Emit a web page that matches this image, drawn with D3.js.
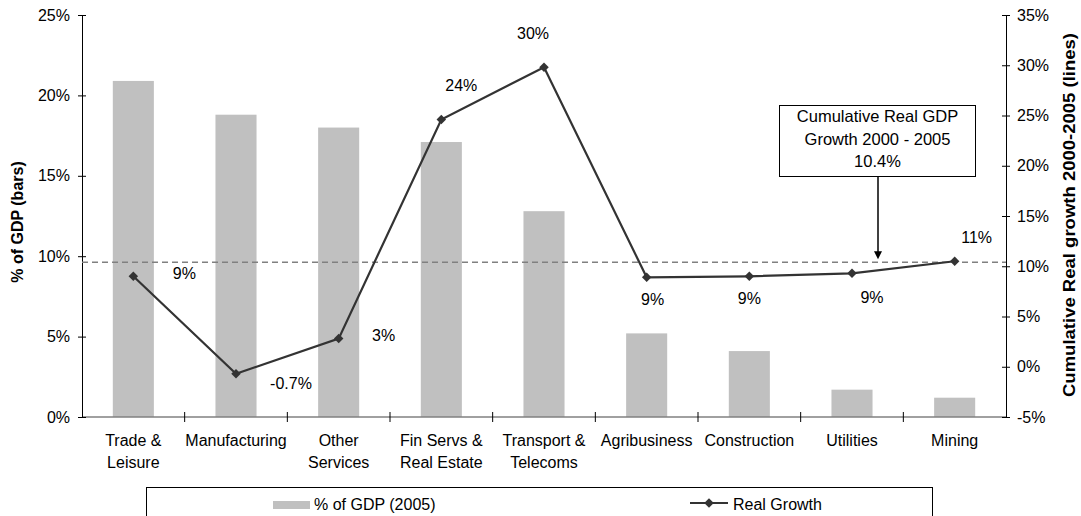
<!DOCTYPE html>
<html>
<head>
<meta charset="utf-8">
<script src="https://cdn.jsdelivr.net/npm/d3@7"></script>
<style>
  body { margin: 0; background: #fff; }
  svg { font-family: "Liberation Sans", Arial, sans-serif; }
</style>
</head>
<body>
<script>
// data
var categories = ["Trade & Leisure", "Manufacturing", "Other Services", "Fin Servs & Real Estate",
  "Transport & Telecoms", "Agribusiness", "Construction", "Utilities", "Mining"];
var catLines = [["Trade &", "Leisure"], ["Manufacturing"], ["Other", "Services"], ["Fin Servs &", "Real Estate"],
  ["Transport &", "Telecoms"], ["Agribusiness"], ["Construction"], ["Utilities"], ["Mining"]];
var gdpShare = [0.209, 0.188, 0.180, 0.171, 0.128, 0.052, 0.041, 0.017, 0.012];
var realGrowth = [0.090, -0.007, 0.028, 0.246, 0.298, 0.089, 0.090, 0.093, 0.105];
var growthLabels = ["9%", "-0.7%", "3%", "24%", "30%", "9%", "9%", "9%", "11%"];
var cumulative = 0.104;
var annText = ["Cumulative Real GDP", "Growth 2000 - 2005", "10.4%"];
var leftTicks = [0, 0.05, 0.10, 0.15, 0.20, 0.25];
var rightTicks = [-0.05, 0, 0.05, 0.10, 0.15, 0.20, 0.25, 0.30, 0.35];

// label offsets from marker (dx, dy)
var labelOff = [[51, -2], [55, 11], [45, -2], [20, -33], [-11, -32], [6, 23], [0, 23], [20, 25], [22, -22]];

var W = 1081, H = 516;
var plotL = 82, plotR = 1006, plotT = 15, plotB = 417;
var fs = 16;

var svg = d3.select("body").append("svg")
  .attr("width", W).attr("height", H);

var x = d3.scaleBand().domain(categories).range([plotL, plotR])
  .paddingInner(0.6).paddingOuter(0.3);
var step = x.step();
var yL = d3.scaleLinear().domain([0, 0.25]).range([plotB, plotT]);
var yR = d3.scaleLinear().domain([-0.05, 0.35]).range([plotB, plotT]);
var pct = d => d3.format(".0%")(d).replace("\u2212", "-");

// bars
svg.append("g").selectAll("rect")
  .data(gdpShare)
  .enter().append("rect")
  .attr("x", (d, i) => x(categories[i]))
  .attr("y", d => yL(d))
  .attr("width", x.bandwidth())
  .attr("height", d => yL(0) - yL(d))
  .attr("fill", "#c0c0c0");

// x axis line + ticks between categories
svg.append("line")
  .attr("x1", plotL).attr("x2", plotR)
  .attr("y1", plotB).attr("y2", plotB)
  .attr("stroke", "#808080").attr("stroke-width", 1.5);

svg.append("g").selectAll("line")
  .data(d3.range(1, categories.length))
  .enter().append("line")
  .attr("x1", k => plotL + k * step).attr("x2", k => plotL + k * step)
  .attr("y1", plotB - 5).attr("y2", plotB + 5)
  .attr("stroke", "#000");

// category labels
var cl = svg.append("g").selectAll("text")
  .data(catLines)
  .enter().append("text")
  .attr("text-anchor", "middle")
  .attr("font-size", fs)
  .attr("fill", "#000")
  .attr("transform", (d, i) => "translate(" + (x(categories[i]) + x.bandwidth() / 2) + ",446)");
cl.selectAll("tspan")
  .data(d => d)
  .enter().append("tspan")
  .attr("x", 0)
  .attr("y", (d, i) => i * 21.5)
  .text(d => d);

// left axis
var gl = svg.append("g")
  .attr("transform", "translate(" + plotL + ",0)")
  .call(d3.axisLeft(yL).tickValues(leftTicks).tickFormat(pct).tickSize(4).tickPadding(8));
gl.select(".domain").attr("stroke", "#000");
gl.selectAll(".tick line").attr("x1", 4).attr("x2", -4);
gl.selectAll("text").attr("font-size", fs).attr("font-family", "Liberation Sans, Arial").attr("fill", "#000");

// right axis
var gr = svg.append("g")
  .attr("transform", "translate(" + plotR + ",0)")
  .call(d3.axisRight(yR).tickValues(rightTicks).tickFormat(pct).tickSize(4).tickPadding(7));
gr.select(".domain").attr("stroke", "#000");
gr.selectAll(".tick line").attr("x1", -4).attr("x2", 4);
gr.selectAll("text").attr("font-size", fs).attr("font-family", "Liberation Sans, Arial").attr("fill", "#000");

// axis titles
svg.append("text")
  .attr("transform", "translate(23,222) rotate(-90)")
  .attr("text-anchor", "middle")
  .attr("font-size", fs).attr("font-weight", "bold")
  .text("% of GDP (bars)");

svg.append("text")
  .attr("transform", "translate(1075,215) rotate(-90)")
  .attr("text-anchor", "middle")
  .attr("font-size", 17).attr("font-weight", "bold")
  .attr("textLength", 364).attr("lengthAdjust", "spacingAndGlyphs")
  .text("Cumulative Real growth 2000-2005 (lines)");

// cumulative dashed line
svg.append("line")
  .attr("x1", plotL).attr("x2", plotR)
  .attr("y1", yR(cumulative)).attr("y2", yR(cumulative))
  .attr("stroke", "#808080").attr("stroke-width", 1.3)
  .attr("stroke-dasharray", "6,4");

// growth line
var cx = (d, i) => x(categories[i]) + x.bandwidth() / 2;
var line = d3.line().x(cx).y(d => yR(d));

svg.append("path")
  .datum(realGrowth)
  .attr("d", line)
  .attr("fill", "none")
  .attr("stroke", "#333")
  .attr("stroke-width", 2.2);

svg.append("g").selectAll("path")
  .data(realGrowth)
  .enter().append("path")
  .attr("d", d3.symbol().type(d3.symbolSquare).size(45))
  .attr("transform", (d, i) => "translate(" + cx(d, i) + "," + yR(d) + ") rotate(45)")
  .attr("fill", "#333");

svg.append("g").selectAll("text")
  .data(realGrowth)
  .enter().append("text")
  .attr("x", (d, i) => cx(d, i) + labelOff[i][0])
  .attr("y", (d, i) => yR(d) + labelOff[i][1])
  .attr("text-anchor", "middle")
  .attr("dominant-baseline", "middle")
  .attr("font-size", fs)
  .text((d, i) => growthLabels[i]);

// annotation box with arrow
var ann = svg.append("g");
ann.append("rect")
  .attr("x", 779.5).attr("y", 105.5).attr("width", 196).attr("height", 71)
  .attr("fill", "#fff").attr("stroke", "#000");
ann.selectAll("text")
  .data(annText)
  .enter().append("text")
  .attr("x", 877.5)
  .attr("y", (d, i) => 118 + i * 22.5)
  .attr("text-anchor", "middle")
  .attr("dominant-baseline", "middle")
  .attr("font-size", 16.5)
  .text(d => d);

var ax = 878, ay = yR(cumulative);
ann.append("line")
  .attr("x1", ax).attr("x2", ax)
  .attr("y1", 176.5).attr("y2", ay - 10)
  .attr("stroke", "#000").attr("stroke-width", 1.5);
ann.append("path")
  .attr("d", "M" + (ax - 4) + "," + (ay - 11) + "L" + (ax + 4) + "," + (ay - 11) + "L" + ax + "," + (ay - 3) + "Z")
  .attr("fill", "#000");

// legend
var lg = svg.append("g");
lg.append("rect")
  .attr("x", 146.5).attr("y", 487.5).attr("width", 786).attr("height", 40)
  .attr("fill", "#fff").attr("stroke", "#000");
lg.append("rect")
  .attr("x", 273).attr("y", 501).attr("width", 37).attr("height", 8)
  .attr("fill", "#c0c0c0");
lg.append("text")
  .attr("x", 314).attr("y", 509.5)
  .attr("font-size", fs)
  .text("% of GDP (2005)");
lg.append("line")
  .attr("x1", 690).attr("x2", 728).attr("y1", 503).attr("y2", 503)
  .attr("stroke", "#333").attr("stroke-width", 2.2);
lg.append("path")
  .attr("d", d3.symbol().type(d3.symbolSquare).size(45))
  .attr("transform", "translate(709,503) rotate(45)")
  .attr("fill", "#333");
lg.append("text")
  .attr("x", 733).attr("y", 509.5)
  .attr("font-size", fs)
  .text("Real Growth");
</script>
</body>
</html>
